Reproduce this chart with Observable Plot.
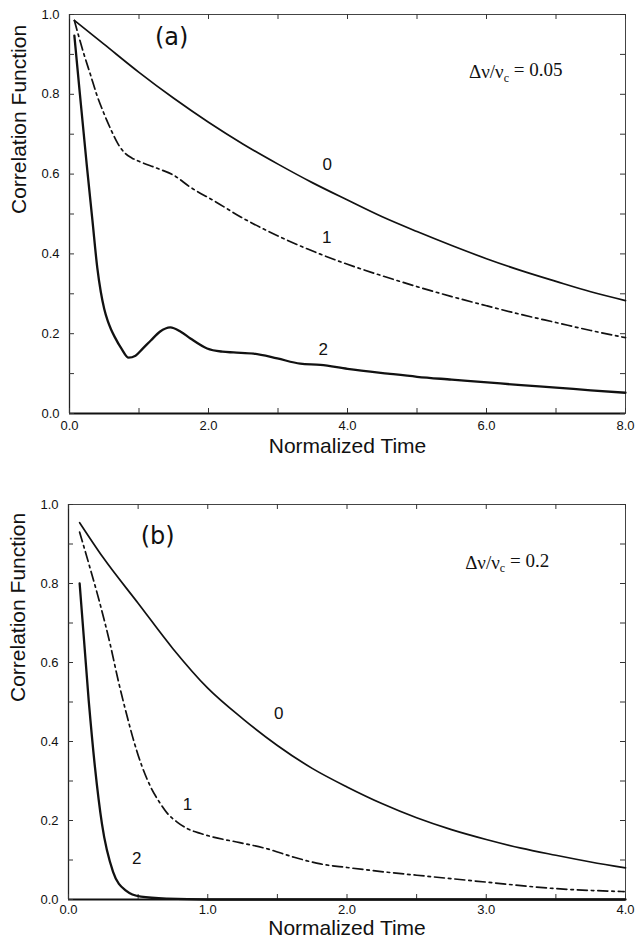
<!DOCTYPE html>
<html><head><meta charset="utf-8">
<script src="https://cdn.jsdelivr.net/npm/d3@7"></script>
<script src="https://cdn.jsdelivr.net/npm/@observablehq/plot@0.6"></script>
<style>
body{margin:0;background:#fff;}
#a,#b{display:block;width:636px;}
</style></head><body><div id="a"></div><div id="b"></div>
<script>
// ---- Panel (a): Δν/νc = 0.05 ----
const a0_t = [0.07,0.5,1,1.5,2,2.5,3,3.5,4,4.5,5,5.5,6,6.5,7,7.5,8];
const a0_v = [0.985,0.925,0.855,0.79,0.73,0.675,0.625,0.578,0.535,0.493,0.456,0.421,0.388,0.358,0.331,0.305,0.283];
const a1_t = [0.07,0.2,0.3,0.4,0.5,0.6,0.7,0.8,0.9,1.0,1.27,1.5,1.74,2.07,2.5,3.0,3.6,4.0,4.5,5.0,5.5,6.0,6.5,7.0,7.5,8.0];
const a1_v = [0.985,0.905,0.85,0.795,0.75,0.71,0.675,0.652,0.64,0.632,0.614,0.597,0.567,0.534,0.489,0.445,0.40,0.374,0.345,0.318,0.293,0.27,0.248,0.228,0.208,0.19];
const a2_t = [0.07,0.15,0.25,0.33,0.4,0.45,0.5,0.55,0.6,0.65,0.75,0.85,0.95,1.05,1.17,1.3,1.45,1.6,1.74,1.98,2.2,2.36,2.65,2.99,3.32,3.61,4.0,4.58,5.0,5.5,6.01,6.5,7.0,7.5,8.0];
const a2_v = [0.947,0.80,0.62,0.484,0.365,0.305,0.262,0.232,0.21,0.192,0.162,0.14,0.145,0.162,0.183,0.205,0.216,0.205,0.188,0.163,0.155,0.153,0.150,0.138,0.125,0.122,0.112,0.10,0.092,0.085,0.078,0.071,0.065,0.058,0.052];
const a_xTickLabels = [0,2,4,6,8];
const a_xTicks = [0,1,2,3,4,5,6,7,8];
const a_curveLabels = [{text:"0", x:3.71, y:0.624},{text:"1", x:3.7, y:0.44},{text:"2", x:3.65, y:0.16}];
const a_tag = {text:"(a)", x:1.47, y:0.942};
const a_note = {text:"Δν/ν_c = 0.05", x:6.42, y:0.855};

// ---- Panel (b): Δν/νc = 0.2 ----
const b0_t = [0.08,0.25,0.5,0.75,1.0,1.25,1.5,1.75,2.0,2.25,2.5,2.75,3.0,3.25,3.5,3.75,4.0];
const b0_v = [0.954,0.865,0.75,0.635,0.535,0.458,0.39,0.332,0.285,0.243,0.207,0.177,0.152,0.13,0.112,0.095,0.08];
const b1_t = [0.08,0.15,0.21,0.3,0.36,0.42,0.47,0.53,0.59,0.65,0.71,0.78,0.85,0.95,1.04,1.23,1.43,1.62,1.81,2.0,2.29,2.6,3.0,3.48,3.99];
const b1_v = [0.93,0.845,0.77,0.645,0.55,0.465,0.40,0.335,0.285,0.248,0.218,0.196,0.18,0.167,0.158,0.144,0.128,0.107,0.09,0.081,0.069,0.058,0.044,0.028,0.02];
const b2_t = [0.08,0.145,0.19,0.24,0.32,0.41,0.52,0.71,1.0,2.0,3.0,4.0];
const b2_v = [0.80,0.504,0.335,0.192,0.07,0.023,0.007,0.002,0,0,0,0];
const b_xTickLabels = [0,1,2,3,4];
const b_xTicks = [0,0.5,1,1.5,2,2.5,3,3.5,4];
const b_curveLabels = [{text:"0", x:1.51, y:0.47},{text:"1", x:0.855, y:0.24},{text:"2", x:0.49, y:0.104}];
const b_tag = {text:"(b)", x:0.64, y:0.92};
const b_note = {text:"Δν/ν_c = 0.2", x:3.15, y:0.853};

const yTickLabels = [0,0.2,0.4,0.6,0.8,1.0];
const yTicks = [0,0.1,0.2,0.3,0.4,0.5,0.6,0.7,0.8,0.9,1.0];
const xTitle = "Normalized Time";
const yTitle = "Correlation Function";

const rows = (ts, vs, id) => ts.map((t,i) => ({t, v: vs[i], id}));
const fmt = d => d.toFixed(1);

function panel(o) {
  const W = 636 - o.ml - o.mr, H = o.height - o.mt - o.mb;
  const [c0,c1,c2] = o.curves;
  return Plot.plot({
    width: 636, height: o.height,
    marginLeft: o.ml, marginRight: o.mr, marginTop: o.mt, marginBottom: o.mb,
    style: {fontFamily: "'Liberation Sans', Arial, sans-serif", fontSize: "13px", background: "#fff"},
    x: {domain: o.xDomain},
    y: {domain: [0, 1]},
    marks: [
      Plot.frame({stroke: "#444", strokeWidth: 1}),
      Plot.ruleY([0], {stroke: "#111", strokeWidth: 1.8}),
      Plot.ruleX([o.xDomain[0]], {stroke: "#222", strokeWidth: 1.3}),
      // inward ticks
      Plot.ruleX(o.xTicks, {insetTop: H - 5, stroke: "#333"}),
      Plot.ruleX(o.xTicks, {insetBottom: H - 5, stroke: "#333"}),
      Plot.ruleY(yTicks, {insetRight: W - 5, stroke: "#333"}),
      Plot.ruleY(yTicks, {insetLeft: W - 5, stroke: "#333"}),
      Plot.axisX({ticks: o.xTickLabels, tickSize: 0, tickPadding: o.xPad, tickFormat: fmt, label: null, fontSize: 13, fill: "#111"}),
      Plot.axisY({ticks: yTickLabels, tickSize: 0, tickPadding: 10, tickFormat: fmt, label: null, fontSize: 13, fill: "#111"}),
      Plot.text([xTitle], {frameAnchor: "bottom", dy: o.xTitleDy, lineAnchor: "middle", fontSize: 21, fill: "#111", text: d => d}),
      Plot.text([yTitle], {frameAnchor: "left", dx: -50, rotate: -90, lineAnchor: "middle", fontSize: 21, fill: "#111", text: d => d}),
      Plot.line(c0, {x: "t", y: "v", stroke: "#111", strokeWidth: 1.7, curve: "monotone-x"}),
      Plot.line(c1, {x: "t", y: "v", stroke: "#111", strokeWidth: 1.7, strokeDasharray: "10,4,2.5,4", curve: "monotone-x"}),
      Plot.line(c2, {x: "t", y: "v", stroke: "#111", strokeWidth: 2.3, curve: "monotone-x"}),
      Plot.text(o.labels, {x: "x", y: "y", text: "text", fontSize: 17, fill: "#111"}),
      Plot.text([o.tag], {x: "x", y: "y", text: "text", fontSize: 24, fontFamily: "'DejaVu Sans', sans-serif", fill: "#111"}),
      Plot.text([o.note], {x: "x", y: "y", text: "text", fontSize: 19, fontFamily: "'Liberation Serif', 'Times New Roman', serif", fill: "#111"})
    ]
  });
}

function fixSub(svg) {
  d3.select(svg).selectAll("text").each(function() {
    const el = this;
    if (!el.textContent.includes("_c")) return;
    const s = el.textContent;
    const [pre, post] = s.split("_c");
    const tspanHost = el.querySelector("tspan") || el;
    tspanHost.textContent = "";
    const sel = d3.select(tspanHost);
    sel.append("tspan").text(pre);
    sel.append("tspan").attr("dy", "0.3em").attr("font-size", "12").text("c");
    sel.append("tspan").attr("dy", "-0.3em").text(post);
  });
}

const A = panel({height: 460, ml: 69, mr: 11, mt: 14, mb: 47, xDomain: [0, 8],
  xTicks: a_xTicks, xTickLabels: a_xTickLabels, xPad: 7,
  curves: [rows(a0_t,a0_v,0), rows(a1_t,a1_v,1), rows(a2_t,a2_v,2)],
  labels: a_curveLabels, tag: a_tag, note: a_note, xTitleDy: 33});
fixSub(A);
document.getElementById("a").append(A);

const B = panel({height: 480, ml: 68, mr: 11, mt: 44, mb: 41, xDomain: [0, 4],
  xTicks: b_xTicks, xTickLabels: b_xTickLabels, xPad: 5,
  curves: [rows(b0_t,b0_v,0), rows(b1_t,b1_v,1), rows(b2_t,b2_v,2)],
  labels: b_curveLabels, tag: b_tag, note: b_note, xTitleDy: 29});
fixSub(B);
document.getElementById("b").append(B);
</script></body></html>
